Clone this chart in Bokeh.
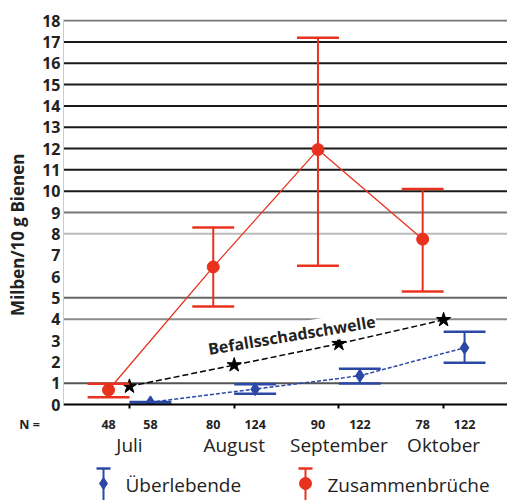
import numpy as np
from bokeh.plotting import figure
from bokeh.models import Range1d, FixedTicker, Span, Label
from bokeh.layouts import column, row
from bokeh.core.properties import value
from bokeh.embed import file_html
from bokeh.resources import INLINE

# ---------------- data ----------------
months = ["Juli", "August", "September", "Oktober"]
n_collapse = [48, 80, 90, 78]
n_survive = [58, 124, 122, 122]

collapse_mean = [0.68, 6.45, 11.95, 7.75]
collapse_low = [0.34, 4.6, 6.5, 5.3]
collapse_high = [0.97, 8.3, 17.2, 10.1]

survive_mean = [0.1, 0.72, 1.35, 2.66]
survive_low = [0.0, 0.5, 0.98, 1.96]
survive_high = [0.12, 0.95, 1.68, 3.41]

threshold = [0.85, 1.85, 2.85, 3.97]

y_ticks = list(range(0, 19))
grid_values = [1, 4, 5, 8, 9, 10, 11, 12, 13, 14, 15, 16, 17, 18]
grid_colors = ["#555555", "#8a8a8a", "#666666", "#bbbbbb", "#777777",
               "#1a1a1a", "#1a1a1a", "#1a1a1a", "#1a1a1a", "#1a1a1a",
               "#1a1a1a", "#1a1a1a", "#1a1a1a", "#777777"]

RED = "#e8321e"
BLUE = "#2c48a6"
TXT = "#222222"
FONT = "Open Sans"

idx = np.arange(len(months))
off = 0.2
cap = 0.2
xc = idx - off
xs = idx + off

# layout geometry (page pixels)
FRAME_L, FRAME_R = 63, 507
FRAME_T, FRAME_B = 19, 404
SPLIT = 415           # boundary between plot and bottom strip
PAGE_B = 500
X0, X1 = -0.63, 3.61
ppu = (FRAME_R - FRAME_L) / (X1 - X0)


def px_to_x(px):
    return X0 + (px - FRAME_L) / ppu


# ---------------- main plot ----------------
p = figure(width=FRAME_R - 30, height=SPLIT, x_range=Range1d(X0, X1),
           y_range=Range1d(0, 18.05), output_backend="svg",
           toolbar_location=None, min_border_left=FRAME_L - 30,
           min_border_right=0, min_border_top=FRAME_T,
           min_border_bottom=SPLIT - FRAME_B)
p.outline_line_color = None
p.xgrid.visible = False
p.ygrid.visible = False

for v, c in zip(grid_values, grid_colors):
    p.add_layout(Span(location=v, dimension="width", line_color=c,
                      line_width=2, level="underlay"))

# threshold
p.line(idx, threshold, line_color="black", line_width=1.5, line_dash="6 3")
p.scatter(idx, threshold, marker="star", size=15, color="black")

# survivors
p.line(xs, survive_mean, line_color=BLUE, line_width=1.5, line_dash="4 2")
p.segment(xs, survive_low, xs, survive_high, line_color=BLUE, line_width=2)
p.segment(xs - cap, survive_low, xs + cap, survive_low, line_color=BLUE, line_width=2.5)
p.segment(xs - cap, survive_high, xs + cap, survive_high, line_color=BLUE, line_width=2.5)
p.scatter(xs, survive_mean, marker="diamond", size=13, color=BLUE)

# collapses
p.line(xc, collapse_mean, line_color=RED, line_width=1.3)
p.segment(xc, collapse_low, xc, collapse_high, line_color=RED, line_width=2)
p.segment(xc - cap, collapse_low, xc + cap, collapse_low, line_color=RED, line_width=2.5)
p.segment(xc - cap, collapse_high, xc + cap, collapse_high, line_color=RED, line_width=2.5)
p.scatter(xc, collapse_mean, marker="circle", size=12, color=RED)

# axes: x axis only shows its line and small tick marks at the months
p.xaxis.ticker = FixedTicker(ticks=[], minor_ticks=[int(i) for i in idx])
p.xaxis.axis_line_color = "black"
p.xaxis.axis_line_width = 2
p.xaxis.major_tick_line_color = None
p.xaxis.major_tick_in = 0
p.xaxis.major_tick_out = 0
p.xaxis.minor_tick_in = 0
p.xaxis.minor_tick_out = 4
p.xaxis.minor_tick_line_color = "black"
p.xaxis.minor_tick_line_width = 2
p.xaxis.major_label_standoff = 0

p.yaxis.ticker = FixedTicker(ticks=y_ticks)
p.yaxis.axis_line_color = "#cccccc"
p.yaxis.axis_line_width = 1
p.yaxis.major_tick_line_color = None
p.yaxis.major_tick_out = 0
p.yaxis.major_tick_in = 0
p.yaxis.minor_tick_line_color = None
p.yaxis.major_label_standoff = 3
p.yaxis.major_label_text_font = FONT
p.yaxis.major_label_text_font_style = "bold"
p.yaxis.major_label_text_font_size = "16px"
p.yaxis.major_label_text_color = TXT

# threshold label
p.add_layout(Label(x=1.55, y=3.25, text="Befallsschadschwelle", angle=0.165,
                   text_align="center", text_baseline="middle", text_font=FONT,
                   text_font_style="bold", text_font_size="16px",
                   text_color=TXT, background_fill_color="white",
                   padding=1))

# ---------------- y label strip ----------------
ylab = figure(width=30, height=SPLIT, x_range=Range1d(0, 30),
              y_range=Range1d(SPLIT, 0), output_backend="svg",
              toolbar_location=None, min_border=0)
ylab.axis.visible = False
ylab.grid.visible = False
ylab.outline_line_color = None
ylab.text([17], [232], text=["Milben/10 g Bienen"], angle=np.pi / 2,
          text_align="center", text_baseline="middle",
          text_font=value(FONT), text_font_style="bold",
          text_font_size="17px", text_color=TXT)

# ---------------- bottom strip: N, months, legend ----------------
bot = figure(width=FRAME_R, height=PAGE_B - SPLIT,
             x_range=Range1d(px_to_x(0), X1),
             y_range=Range1d(PAGE_B, SPLIT), output_backend="svg",
             toolbar_location=None, min_border=0)
bot.axis.visible = False
bot.grid.visible = False
bot.outline_line_color = None

n_x = list(xc) + list(xs)
n_txt = [str(n) for n in n_collapse + n_survive]
bot.text(n_x, [423.5] * len(n_x), text=n_txt, text_align="center",
         text_baseline="middle", text_font=value(FONT),
         text_font_style="bold", text_font_size="12.5px", text_color=TXT)
bot.text([px_to_x(29)], [423.5], text=["N ="], text_align="center",
         text_baseline="middle", text_font=value(FONT),
         text_font_style="bold", text_font_size="12.5px", text_color=TXT)
bot.text(list(idx), [444] * len(idx), text=months, text_align="center",
         text_baseline="middle", text_font=value(FONT),
         text_font_size="19px", text_color=TXT)

leg_px = [103, 305]
leg_colors = [BLUE, RED]
leg_markers = ["diamond", "circle"]
leg_labels = ["Überlebende", "Zusammenbrüche"]
for lpx, lc, lm, lt in zip(leg_px, leg_colors, leg_markers, leg_labels):
    lx = px_to_x(lpx)
    hw = 7 / ppu
    bot.segment([lx], [468], [lx], [501], line_color=lc, line_width=2)
    bot.segment([lx - hw], [468], [lx + hw], [468], line_color=lc, line_width=2.5)
    bot.scatter([lx], [483], marker=lm, size=12, color=lc)
    bot.text([px_to_x(lpx + 22)], [484], text=[lt], text_align="left",
             text_baseline="middle", text_font=value(FONT),
             text_font_size="19px", text_color=TXT)

layout = column(row(ylab, p), bot)
open("out.html", "w").write(file_html(layout, INLINE))
